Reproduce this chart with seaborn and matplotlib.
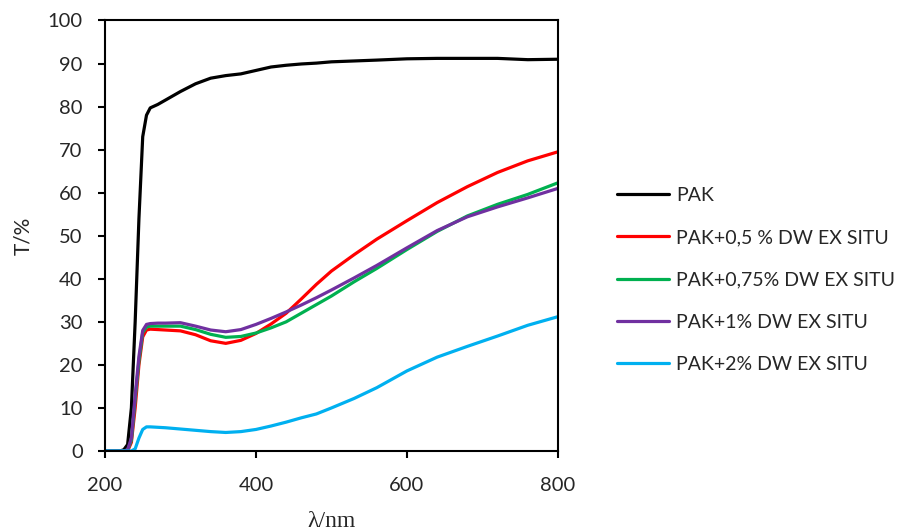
# Phổ truyền qua của các mẫu PAK và PAK có pha DW (ex situ)
import pandas as pd
import matplotlib.pyplot as plt
import seaborn as sns

OUTPUT_FILE = "out.png"

# bước sóng (nm) dùng chung cho mọi đường
wavelength = [200, 220, 225, 230, 235, 240, 245, 250, 255, 260, 270, 280, 300, 320,
              340, 360, 380, 400, 420, 440, 460, 480, 500, 530, 560, 600, 640, 680,
              720, 760, 800]

t_pak = [0, 0, 0.3, 1.5, 10, 30, 54, 73, 78, 79.7, 80.5, 81.5, 83.5, 85.3,
         86.6, 87.2, 87.6, 88.4, 89.2, 89.6, 89.9, 90.1, 90.4, 90.6, 90.8, 91.1, 91.2, 91.2,
         91.2, 90.9, 91.0]
t_05 = [0, 0, 0, 0, 2, 10, 20, 26.5, 28.1, 28.3, 28.2, 28.1, 27.9, 27.0,
        25.6, 25.0, 25.7, 27.3, 29.5, 32.0, 35.3, 38.7, 41.8, 45.6, 49.2, 53.5, 57.7, 61.4,
        64.7, 67.4, 69.5]
t_075 = [0, 0, 0, 0.2, 2.5, 12, 21, 27.5, 28.8, 29.0, 29.0, 29.0, 29.0, 28.2,
         27.1, 26.4, 26.6, 27.4, 28.6, 30.0, 32.0, 34.0, 36.0, 39.3, 42.4, 46.8, 51.0, 54.6,
         57.3, 59.6, 62.3]
t_1 = [0, 0, 0, 0.3, 3, 13, 22, 28, 29.4, 29.6, 29.7, 29.7, 29.8, 29.0,
       28.1, 27.7, 28.2, 29.4, 30.8, 32.3, 33.9, 35.6, 37.4, 40.2, 43.1, 47.2, 51.2, 54.4,
       56.7, 58.8, 61.0]
t_2 = [0, 0, 0, 0, 0, 0.5, 3, 5.0, 5.6, 5.6, 5.5, 5.4, 5.1, 4.8,
       4.5, 4.3, 4.5, 5.0, 5.8, 6.7, 7.7, 8.6, 10.0, 12.2, 14.7, 18.6, 21.8, 24.3,
       26.7, 29.2, 31.2]

sample_names = ["PAK", "PAK+0,5 % DW EX SITU", "PAK+0,75% DW EX SITU",
                "PAK+1% DW EX SITU", "PAK+2% DW EX SITU"]
sample_colors = ["#000000", "#FF0000", "#00B050", "#7030A0", "#00B0F0"]


def build_frame():
    rows = []
    for name, values in zip(sample_names, [t_pak, t_05, t_075, t_1, t_2]):
        for lam, t in zip(wavelength, values):
            rows.append({"lambda": lam, "T": t, "sample": name})
    return pd.DataFrame(rows)


def draw(df):
    sns.set_style("ticks")
    plt.rcParams["font.family"] = ["Lato", "DejaVu Sans"]

    fig = plt.figure(figsize=(9.08, 5.31), dpi=100)
    ax = fig.add_axes([0.1156, 0.1507, 0.4989, 0.8107])

    sns.lineplot(data=df, x="lambda", y="T", hue="sample", hue_order=sample_names,
                 palette=sample_colors, linewidth=2.3, ax=ax)

    ax.set_xlim(200, 800)
    ax.set_ylim(0, 100)
    ax.set_xticks([200, 400, 600, 800])
    ax.set_yticks(range(0, 101, 10))
    for s in ax.spines.values():
        s.set_linewidth(1.5)
        s.set_color("black")
    ax.tick_params(axis="both", direction="out", length=5, width=1.5,
                   labelsize=14.5, colors="black")
    ax.tick_params(axis="x", pad=14)
    ax.tick_params(axis="y", pad=11)
    for lab in ax.get_xticklabels() + ax.get_yticklabels():
        lab.set_color("#262626")

    ax.set_xlabel("λ/nm", family="Liberation Serif", fontsize=17, labelpad=12)
    ax.set_ylabel("T/%", fontsize=15, labelpad=10)

    handles, labels = ax.get_legend_handles_labels()
    leg = ax.legend(handles, labels, loc="center left",
                    bbox_to_anchor=(0.6795, 0.4727), bbox_transform=fig.transFigure,
                    frameon=False, fontsize=14, handlelength=2.7, handletextpad=0.36,
                    labelspacing=1.3, borderpad=0, borderaxespad=0)
    for line in leg.get_lines():
        line.set_linewidth(2.3)

    fig.savefig(OUTPUT_FILE, dpi=100)
    plt.close(fig)


def main():
    df = build_frame()
    draw(df)


if __name__ == "__main__":
    main()
